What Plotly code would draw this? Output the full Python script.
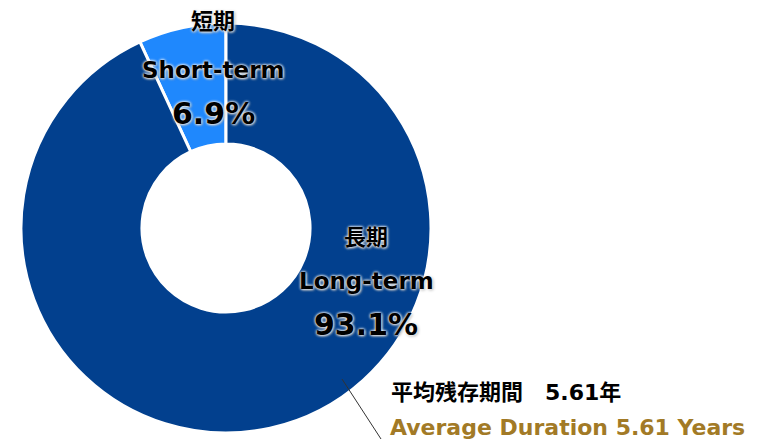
import plotly.graph_objects as go

# データ
labels_ja = ["短期", "長期"]
labels_en = ["Short-term", "Long-term"]
values = [6.9, 93.1]
colors = ["#1f88fd", "#02408e"]
duration_ja = "平均残存期間　5.61年"
duration_en = "Average Duration 5.61 Years"

W, H = 758, 439
OFF = 8  # body margin of the html page
FW, FH = W - OFF, H - OFF
FONT = "DejaVu Sans, Noto Sans CJK JP, sans-serif"
HALO = "0px 0px 3px white, 0px 0px 3px white, 1px 1px 3px #999"


def px(x, y):
    # page pixel -> paper coords
    return (x - OFF) / FW, 1 - (y - OFF) / FH


dx0, dy0 = px(21, 433)
dx1, dy1 = px(431, 23)
fig = go.Figure(go.Pie(
    labels=labels_en,
    values=values,
    sort=False,
    direction="clockwise",
    rotation=-24.84,
    hole=0.41,
    marker=dict(colors=colors, line=dict(color="white", width=3)),
    textinfo="none",
    hoverinfo="label+percent",
    domain=dict(x=[dx0, dx1], y=[dy0, dy1]),
    showlegend=False,
))

# ラベルの位置 (ピクセル)
label_pos = [(213, [22, 70, 113]), (366, [238, 281, 324])]
for i, (cx, ys) in enumerate(label_pos):
    texts = [labels_ja[i], labels_en[i], f"{values[i]:.1f}%"]
    sizes = [22, 23, 30]
    for t, y, s in zip(texts, ys, sizes):
        x, yy = px(cx, y)
        fig.add_annotation(
            x=x, y=yy, xref="paper", yref="paper", text=f"<b>{t}</b>",
            showarrow=False, xanchor="center", yanchor="middle",
            font=dict(family=FONT, size=s, color="black", shadow=HALO),
        )

x, y = px(389, 392)
fig.add_annotation(x=x, y=y, xref="paper", yref="paper", text=f"<b>{duration_ja}</b>",
                   showarrow=False, xanchor="left", yanchor="middle",
                   font=dict(family=FONT, size=22, color="black"))
x, y = px(388, 427)
fig.add_annotation(x=x, y=y, xref="paper", yref="paper", text=f"<b>{duration_en}</b>",
                   showarrow=False, xanchor="left", yanchor="middle",
                   font=dict(family=FONT, size=22, color="#a27a26"))

# 引き出し線
x0, y0 = px(342, 379)
x1, y1 = px(381, 439)
fig.add_shape(type="line", xref="paper", yref="paper", x0=x0, y0=y0, x1=x1, y1=y1,
              line=dict(color="#333333", width=1))

fig.update_layout(
    width=FW, height=FH,
    margin=dict(l=0, r=0, t=0, b=0),
    paper_bgcolor="white",
    plot_bgcolor="white",
)

fig.write_html("out.html")
